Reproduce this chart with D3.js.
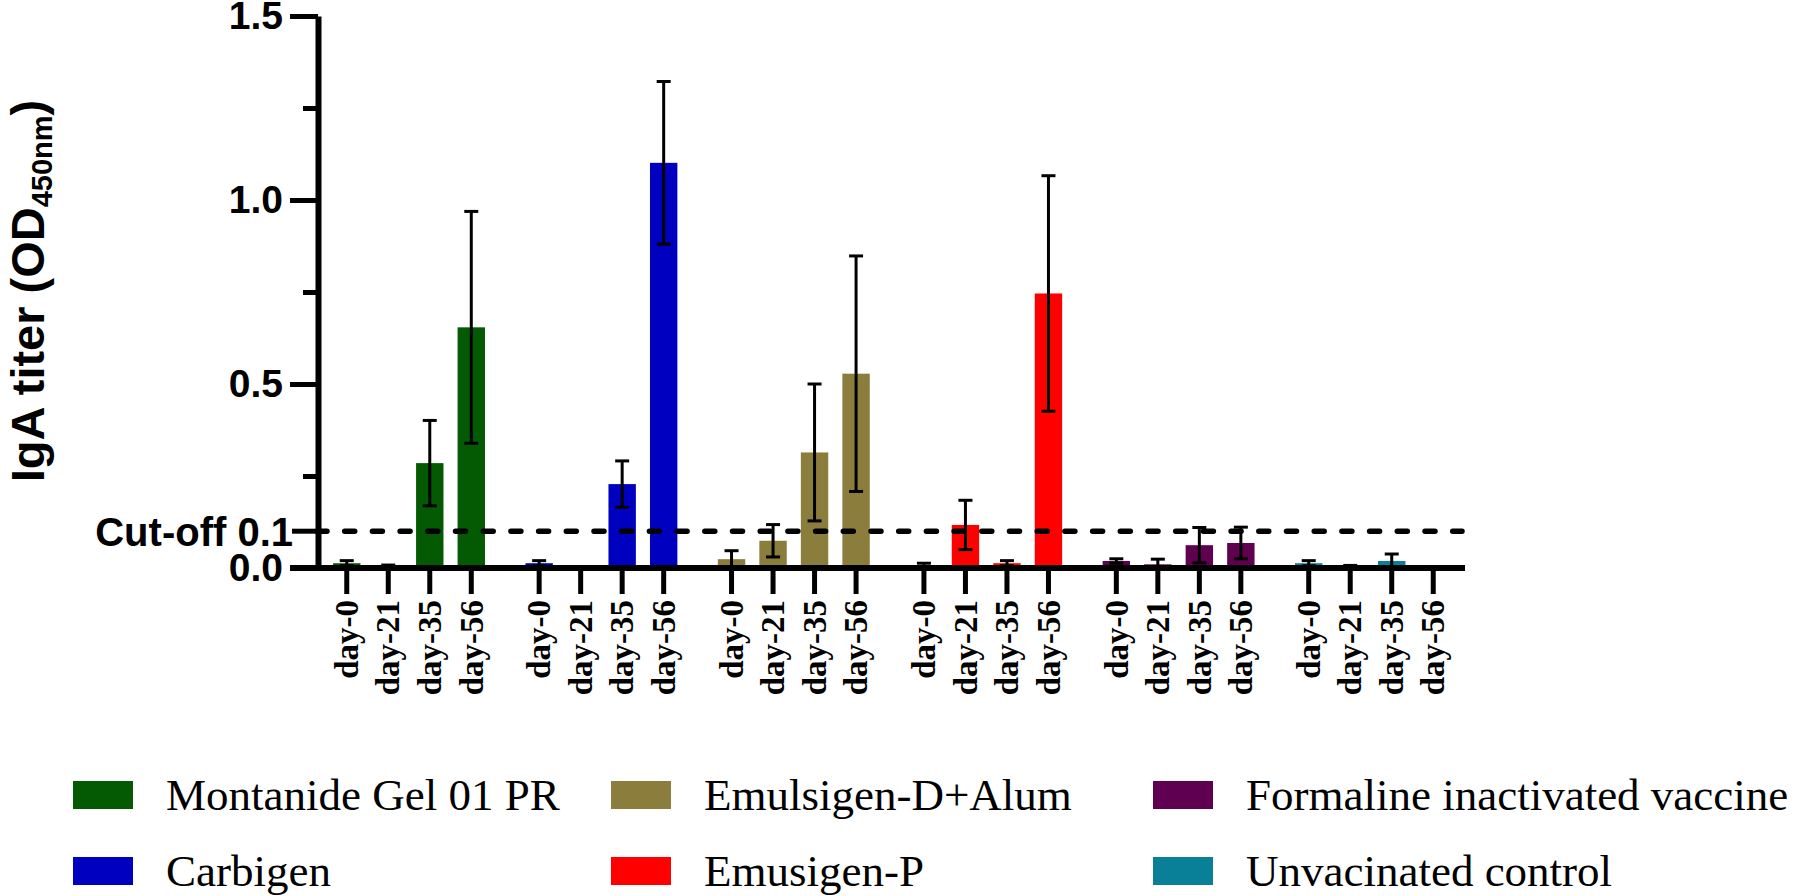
<!DOCTYPE html>
<html>
<head>
<meta charset="utf-8">
<script src="https://cdn.jsdelivr.net/npm/d3@7"></script>
<style>
  body { margin: 0; background: #fff; }
  svg { display: block; }
</style>
</head>
<body>
<div id="wrapper"></div>
<script>
// data
const groups = ["Montanide Gel 01 PR", "Carbigen", "Emulsigen-D+Alum", "Emusigen-P", "Formaline inactivated vaccine", "Unvacinated control"]
const days = ["day-0", "day-21", "day-35", "day-56"]
const colors = ["#035a03", "#0000c0", "#8b7d3b", "#ff0000", "#5f0050", "#0a7f98"]
const means = [
  [0.013, 0.005, 0.285, 0.654],
  [0.013, 0.002, 0.228, 1.101],
  [0.024, 0.074, 0.314, 0.528],
  [0.005, 0.117, 0.013, 0.746],
  [0.019, 0.010, 0.062, 0.068],
  [0.013, 0.004, 0.019, 0.002],
]
const sds = [
  [0.007, 0.003, 0.116, 0.315],
  [0.007, 0.000, 0.063, 0.221],
  [0.023, 0.044, 0.186, 0.320],
  [0.008, 0.067, 0.007, 0.320],
  [0.006, 0.014, 0.048, 0.043],
  [0.007, 0.003, 0.019, 0.000],
]
const majorTicks = [0, 0.5, 1.0, 1.5]
const minorTicks = [0.25, 0.75, 1.25]
const cutoff = 0.1

const width = 1800, height = 896
const sans = "'Liberation Sans', Arial, sans-serif"
const serif = "'Liberation Serif', 'Times New Roman', serif"

const svg = d3.select("#wrapper").append("svg")
    .attr("width", width)
    .attr("height", height)

const yScale = d3.scaleLinear()
    .domain([0, 1.5])
    .range([568, 16])

const xGroup = d3.scaleBand()
    .domain(groups)
    .range([326, 1454])
    .paddingInner(0.137)
    .paddingOuter(0)

const xDay = d3.scaleBand()
    .domain(days)
    .range([0, xGroup.bandwidth()])
    .paddingInner(0.34)
    .paddingOuter(0.17)

const rows = []
groups.forEach((g, gi) => {
  days.forEach((d, di) => {
    rows.push({group: g, day: d, mean: means[gi][di], sd: sds[gi][di], color: colors[gi]})
  })
})
const xCenter = r => xGroup(r.group) + xDay(r.day) + xDay.bandwidth() / 2

// bars
svg.append("g").selectAll("rect")
  .data(rows)
  .join("rect")
    .attr("x", r => xGroup(r.group) + xDay(r.day))
    .attr("width", xDay.bandwidth())
    .attr("y", r => yScale(r.mean))
    .attr("height", r => yScale(0) - yScale(r.mean))
    .attr("fill", r => r.color)

// error bars
const err = svg.append("g")
    .attr("stroke", "#000")
    .attr("stroke-width", 3)
err.selectAll(".v")
  .data(rows)
  .join("line")
    .attr("x1", xCenter).attr("x2", xCenter)
    .attr("y1", r => yScale(Math.max(0, r.mean - r.sd)))
    .attr("y2", r => yScale(r.mean + r.sd))
err.selectAll(".cap")
  .data(rows.flatMap(r => [{r, v: r.mean + r.sd}, {r, v: Math.max(0, r.mean - r.sd)}]))
  .join("line")
    .attr("x1", c => xCenter(c.r) - 7).attr("x2", c => xCenter(c.r) + 7)
    .attr("y1", c => yScale(c.v)).attr("y2", c => yScale(c.v))

// cut-off line
svg.append("line")
    .attr("x1", 317).attr("x2", 1462)
    .attr("y1", yScale(cutoff)).attr("y2", yScale(cutoff))
    .attr("stroke", "#000")
    .attr("stroke-width", 5.5)
    .attr("stroke-dasharray", "10 17.7")
    .attr("stroke-linecap", "round")
svg.append("line")
    .attr("x1", 292).attr("x2", 318)
    .attr("y1", yScale(cutoff)).attr("y2", yScale(cutoff))
    .attr("stroke", "#000")
    .attr("stroke-width", 5)
svg.append("text")
    .attr("x", 293).attr("y", yScale(cutoff))
    .attr("dy", "0.36em")
    .attr("text-anchor", "end")
    .style("font", `bold 40px ${sans}`)
    .text("Cut-off 0.1")

// y axis
const yAxis = svg.append("g")
    .attr("transform", "translate(318,0)")
    .call(d3.axisLeft(yScale).tickValues(majorTicks).tickSize(28).tickSizeOuter(0).tickPadding(7)
      .tickFormat(d3.format(".1f")))
yAxis.select(".domain").attr("stroke-width", 6)
yAxis.selectAll(".tick line").attr("stroke-width", 5)
yAxis.selectAll(".tick text")
    .style("font", `bold 39px ${sans}`)
    .attr("fill", "#000")
const yMinor = svg.append("g")
    .attr("transform", "translate(318,0)")
    .call(d3.axisLeft(yScale).tickValues(minorTicks).tickSize(15).tickFormat(""))
yMinor.select(".domain").remove()
yMinor.selectAll(".tick line").attr("stroke-width", 5)

// x axis line
svg.append("line")
    .attr("x1", 290).attr("x2", 1465)
    .attr("y1", yScale(0)).attr("y2", yScale(0))
    .attr("stroke", "#000")
    .attr("stroke-width", 6)

// day ticks per group
groups.forEach(g => {
  const ax = svg.append("g")
      .attr("transform", `translate(${xGroup(g)},${yScale(0)})`)
      .call(d3.axisBottom(xDay).tickSize(26).tickSizeOuter(0))
  ax.select(".domain").remove()
  ax.selectAll(".tick line").attr("stroke-width", 5)
  ax.selectAll(".tick text")
      .attr("transform", "rotate(-90)")
      .attr("x", -32).attr("y", 0).attr("dy", "0.34em")
      .attr("text-anchor", "end")
      .attr("fill", "#000")
      .style("font", `bold 33px ${serif}`)
})

// y title
const title = svg.append("text")
    .attr("transform", "translate(44,291) rotate(-90)")
    .attr("text-anchor", "middle")
    .style("font", `bold 47px ${sans}`)
title.append("tspan").text("IgA titer (OD")
title.append("tspan").attr("dy", 8).style("font-size", "29px").text("450nm")
title.append("tspan").attr("dy", -8).text(")")

// legend
const legendX = [73, 611, 1153]
const legendY = [795, 871]
const legend = svg.append("g").selectAll("g")
  .data(groups)
  .join("g")
    .attr("transform", (g, i) => `translate(${legendX[Math.floor(i / 2)]},${legendY[i % 2]})`)
legend.append("rect")
    .attr("x", 0).attr("y", -14)
    .attr("width", 60).attr("height", 28)
    .attr("fill", (g, i) => colors[i])
legend.append("text")
    .attr("x", 93).attr("dy", "0.33em")
    .style("font", `45px ${serif}`)
    .text(g => g)
</script>
</body>
</html>
